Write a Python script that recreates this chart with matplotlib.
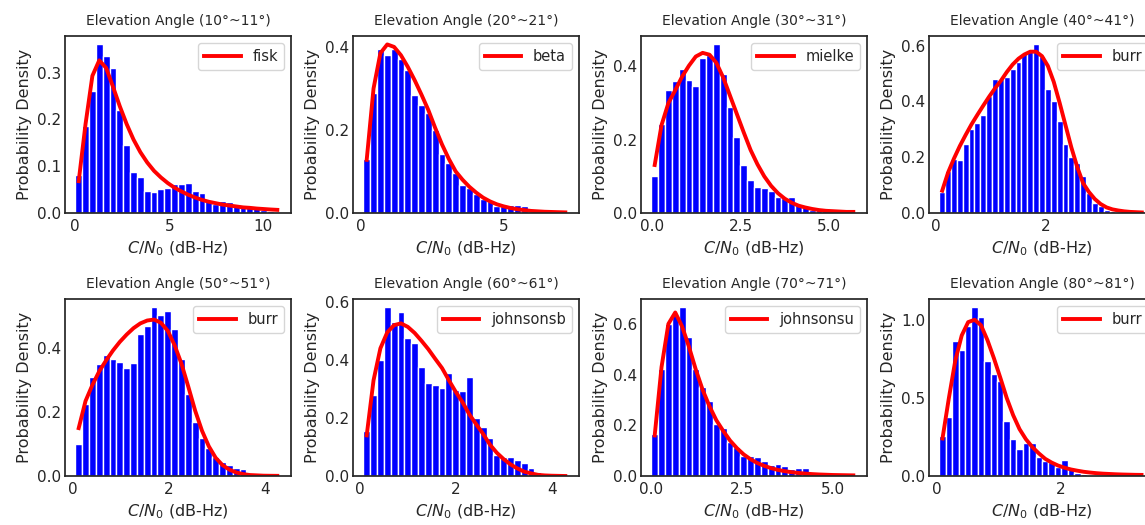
import numpy as np
import matplotlib
matplotlib.use("Agg")
import matplotlib.pyplot as plt
from matplotlib.ticker import MaxNLocator

# ---------------- data ----------------
titles = ["Elevation Angle (10°~11°)", "Elevation Angle (20°~21°)",
          "Elevation Angle (30°~31°)", "Elevation Angle (40°~41°)",
          "Elevation Angle (50°~51°)", "Elevation Angle (60°~61°)",
          "Elevation Angle (70°~71°)", "Elevation Angle (80°~81°)"]
dist_names = ["fisk", "beta", "mielke", "burr", "burr", "johnsonsb", "johnsonsu", "burr"]

# histogram bin range (C/N0 min, max) for each panel
p1_range = (0.0, 10.92)
p2_range = (0.077, 7.26)
p3_range = (-0.032, 5.776)
p4_range = (0.0625, 3.807)
p5_range = (0.05, 4.33)
p6_range = (0.08, 4.35)
p7_range = (0.012, 5.65)
p8_range = (0.038, 3.366)

# histogram densities (one value per bin)
p1_density = [0.082, 0.186, 0.26, 0.36, 0.335, 0.31, 0.22, 0.146, 0.087, 0.077,
              0.048, 0.045, 0.051, 0.053, 0.062, 0.063, 0.064, 0.047, 0.043, 0.028,
              0.02, 0.026, 0.023, 0.019, 0.016, 0.012, 0.01, 0.007, 0.005, 0.003]
p2_density = [0.13, 0.29, 0.395, 0.38, 0.395, 0.37, 0.345, 0.285, 0.26, 0.24,
              0.2, 0.142, 0.12, 0.096, 0.068, 0.06, 0.046, 0.034, 0.03, 0.017,
              0.016, 0.02, 0.02, 0.018, 0.002, 0.002, 0.001, 0.0, 0.0, 0.001]
p3_density = [0.101, 0.243, 0.335, 0.36, 0.394, 0.362, 0.346, 0.424, 0.43, 0.46,
              0.38, 0.29, 0.208, 0.131, 0.09, 0.072, 0.068, 0.059, 0.043, 0.04,
              0.045, 0.021, 0.016, 0.009, 0.012, 0.014, 0.007, 0.003, 0.002, 0.001]
p4_density = [0.076, 0.15, 0.192, 0.19, 0.246, 0.30, 0.324, 0.35, 0.42, 0.48,
              0.48, 0.486, 0.516, 0.54, 0.574, 0.58, 0.604, 0.564, 0.444, 0.402,
              0.33, 0.246, 0.2, 0.18, 0.132, 0.072, 0.036, 0.024, 0.012, 0.006,
              0.004, 0.002, 0.001, 0.001, 0.0]
p5_density = [0.10, 0.225, 0.31, 0.352, 0.379, 0.366, 0.358, 0.339, 0.355, 0.446,
              0.47, 0.528, 0.505, 0.516, 0.46, 0.366, 0.257, 0.17, 0.119, 0.087,
              0.059, 0.045, 0.035, 0.024, 0.021, 0.008, 0.004, 0.002, 0.001, 0.001]
p6_density = [0.156, 0.279, 0.399, 0.581, 0.532, 0.564, 0.474, 0.457, 0.376, 0.319,
              0.312, 0.302, 0.354, 0.296, 0.292, 0.341, 0.2, 0.168, 0.13, 0.073,
              0.067, 0.067, 0.055, 0.044, 0.027, 0.015, 0.008, 0.004, 0.002, 0.001]
p7_density = [0.165, 0.423, 0.60, 0.637, 0.665, 0.547, 0.423, 0.35, 0.294, 0.204,
              0.19, 0.136, 0.116, 0.08, 0.077, 0.074, 0.059, 0.045, 0.046, 0.041,
              0.028, 0.033, 0.033, 0.01, 0.006, 0.004, 0.002, 0.001, 0.001, 0.001]
p8_density = [0.253, 0.376, 0.865, 0.805, 0.961, 1.079, 1.015, 0.736, 0.655, 0.607,
              0.354, 0.236, 0.172, 0.21, 0.21, 0.12, 0.097, 0.092, 0.056, 0.103,
              0.049, 0.017, 0.011, 0.006, 0.008, 0.004, 0.004, 0.002, 0.002, 0.0,
              0.017, 0.0]

# fitted pdf evaluated at the bin centres
p1_fit = [0.068, 0.19, 0.293, 0.326, 0.31, 0.27, 0.228, 0.19, 0.157, 0.13,
          0.108, 0.09, 0.076, 0.064, 0.054, 0.046, 0.039, 0.033, 0.028, 0.024,
          0.021, 0.018, 0.016, 0.014, 0.012, 0.011, 0.0095, 0.0085, 0.0075, 0.0067]
p2_fit = [0.128, 0.30, 0.385, 0.406, 0.40, 0.38, 0.352, 0.32, 0.285, 0.248,
          0.205, 0.165, 0.13, 0.1, 0.08, 0.063, 0.049, 0.037, 0.028, 0.021,
          0.016, 0.012, 0.009, 0.007, 0.005, 0.004, 0.003, 0.0025, 0.002, 0.0015]
p3_fit = [0.131, 0.24, 0.30, 0.335, 0.372, 0.402, 0.427, 0.437, 0.432, 0.41,
          0.37, 0.32, 0.27, 0.22, 0.172, 0.133, 0.1, 0.074, 0.054, 0.039,
          0.028, 0.02, 0.015, 0.011, 0.008, 0.006, 0.005, 0.004, 0.003, 0.003]
p4_fit = [0.08, 0.145, 0.195, 0.24, 0.28, 0.318, 0.352, 0.385, 0.417, 0.447,
          0.474, 0.505, 0.532, 0.553, 0.568, 0.578, 0.578, 0.562, 0.527, 0.47,
          0.395, 0.315, 0.235, 0.165, 0.107, 0.075, 0.05, 0.032, 0.02, 0.013,
          0.009, 0.006, 0.004, 0.003, 0.002]
p5_fit = [0.15, 0.235, 0.285, 0.328, 0.362, 0.393, 0.42, 0.443, 0.463, 0.478,
          0.487, 0.49, 0.48, 0.455, 0.41, 0.352, 0.28, 0.205, 0.142, 0.093,
          0.057, 0.034, 0.02, 0.011, 0.006, 0.003, 0.002, 0.001, 0.0007, 0.0005]
p6_fit = [0.14, 0.33, 0.44, 0.495, 0.52, 0.526, 0.514, 0.493, 0.466, 0.437,
          0.404, 0.372, 0.33, 0.29, 0.254, 0.212, 0.178, 0.145, 0.108, 0.08,
          0.058, 0.04, 0.026, 0.015, 0.009, 0.004, 0.002, 0.001, 0.0005, 0.0]
p7_fit = [0.16, 0.43, 0.60, 0.645, 0.59, 0.51, 0.42, 0.34, 0.275, 0.22,
          0.178, 0.14, 0.11, 0.085, 0.066, 0.051, 0.04, 0.031, 0.024, 0.019,
          0.015, 0.012, 0.0095, 0.0075, 0.006, 0.005, 0.004, 0.0035, 0.003, 0.0025]
p8_fit = [0.24, 0.5, 0.74, 0.9, 0.985, 1.0, 0.965, 0.87, 0.755, 0.63,
          0.5, 0.39, 0.3, 0.235, 0.185, 0.145, 0.11, 0.086, 0.067, 0.053,
          0.042, 0.034, 0.027, 0.022, 0.018, 0.015, 0.013, 0.011, 0.0095, 0.0085,
          0.0075, 0.007]

ranges = [p1_range, p2_range, p3_range, p4_range, p5_range, p6_range, p7_range, p8_range]
densities = [p1_density, p2_density, p3_density, p4_density,
             p5_density, p6_density, p7_density, p8_density]
fits = [p1_fit, p2_fit, p3_fit, p4_fit, p5_fit, p6_fit, p7_fit, p8_fit]

# ---------------- style ----------------
plt.rcParams.update({
    "font.family": ["DejaVu Sans"],
    "text.color": ".15",
    "axes.labelcolor": ".15",
    "xtick.color": ".15",
    "ytick.color": ".15",
    "axes.edgecolor": ".15",
    "axes.linewidth": 1.25,
    "xtick.major.size": 0,
    "ytick.major.size": 0,
    "xtick.major.pad": 4.5,
    "ytick.major.pad": 2.5,
    "xtick.labelsize": 11,
    "ytick.labelsize": 11,
    "axes.labelsize": 11.5,
    "axes.titlesize": 10,
    "axes.titlepad": 8,
    "legend.fontsize": 10.5,
})

W, H = 1145, 525
fig = plt.figure(figsize=(W / 100, H / 100), dpi=100)

col_left = [65, 353, 641, 929]
row_top = [36, 299]
ax_w, ax_h = 226, 177
nice_steps = [1, 2, 2.5, 5, 10]

for i in range(8):
    r, c = divmod(i, 4)
    left = col_left[c] / W
    bottom = (H - row_top[r] - ax_h) / H
    ax = fig.add_axes([left, bottom, ax_w / W, ax_h / H])

    lo, hi = ranges[i]
    dens = np.array(densities[i])
    n = len(dens)
    edges = np.linspace(lo, hi, n + 1)
    width = edges[1] - edges[0]
    centers = 0.5 * (edges[:-1] + edges[1:])

    ax.bar(edges[:-1], dens, width=width, align="edge", color="blue",
           edgecolor="white", linewidth=1.0)
    ax.plot(centers, fits[i], color="red", lw=2.8, label=dist_names[i])

    ax.set_title(titles[i])
    ax.set_xlabel(r"$C/N_0$ (dB-Hz)")
    ax.set_ylabel("Probability Density")
    ax.xaxis.set_major_locator(MaxNLocator(nbins=3, steps=nice_steps))
    ax.yaxis.set_major_locator(MaxNLocator(nbins=4, steps=nice_steps))
    ax.legend(loc="upper right", handlelength=2.5, fancybox=True,
              framealpha=0.8, edgecolor="0.8")

fig.savefig("out.png", dpi=100)
